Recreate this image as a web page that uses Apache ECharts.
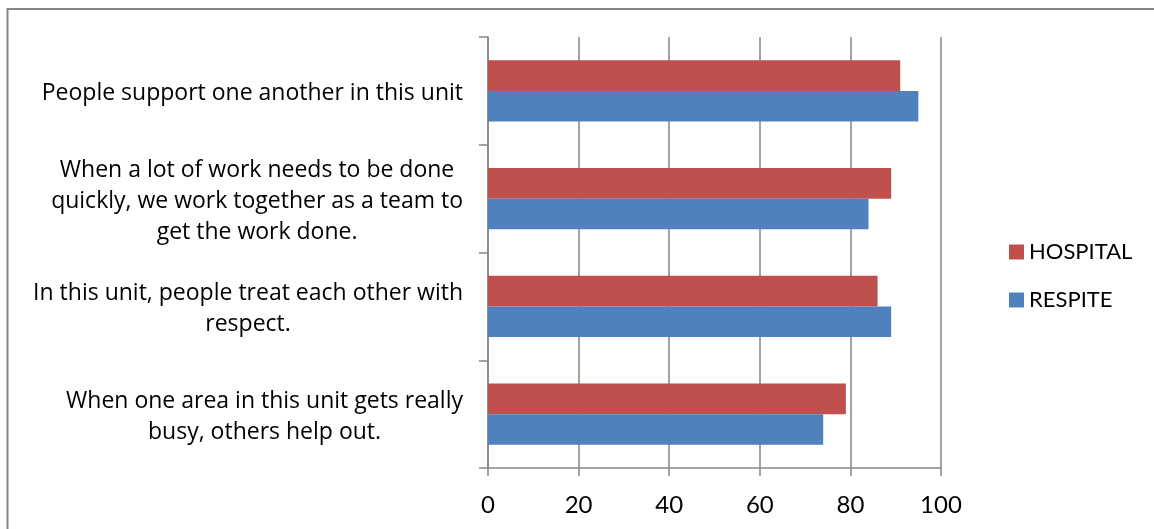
<!DOCTYPE html>
<html>
<head>
<meta charset="utf-8">
<script src="https://cdn.jsdelivr.net/npm/echarts@6/dist/echarts.min.js"></script>
<style>
html,body{margin:0;padding:0;background:#fff;}
#c{width:1154px;height:529px;}
</style>
</head>
<body>
<div id="c"></div>
<script>
// Categories listed bottom to top (value axis reads upward)
var categories = [
  "When one area in this unit gets really\nbusy, others help out.",
  "In this unit, people treat each other with\nrespect.",
  "When a lot of work needs to be done\nquickly, we work together as a team to\nget the work done.",
  "People support one another in this unit"
];
var respite = [74, 89, 84, 95];
var hospital = [79, 86, 89, 91];
var seriesNames = ["HOSPITAL", "RESPITE"];
var xTicks = { min: 0, max: 100, interval: 20 };

var chart = echarts.init(document.getElementById('c'), null, { renderer: 'canvas' });
var grey = '#868686';
var font = 'Lato';

chart.setOption({
  animation: false,
  backgroundColor: '#fff',
  graphic: [{
    type: 'rect',
    shape: { x: 7.5, y: 9, width: 1300, height: 700 },
    style: { fill: 'none', stroke: grey, lineWidth: 2 },
    silent: true
  }],
  grid: { left: 488, right: 213, top: 37, bottom: 61, containLabel: false },
  legend: {
    orient: 'vertical',
    left: 1004,
    top: 236,
    data: seriesNames,
    icon: 'rect',
    itemWidth: 15,
    itemHeight: 15,
    itemGap: 26,
    textStyle: { fontFamily: font, fontSize: 22, color: '#000', lineHeight: 22, padding: [0, 0, 0, 0] }
  },
  xAxis: {
    type: 'value',
    min: xTicks.min,
    max: xTicks.max,
    interval: xTicks.interval,
    axisLine: { show: true, lineStyle: { color: grey, width: 1.5 } },
    axisTick: { show: true, inside: false, length: 8, lineStyle: { color: grey, width: 1.5 } },
    splitLine: { show: true, lineStyle: { color: grey, width: 1.5 } },
    axisLabel: { fontFamily: font, fontSize: 24, color: '#000', margin: 25 }
  },
  yAxis: {
    type: 'category',
    data: categories,
    axisLine: { show: true, lineStyle: { color: grey, width: 1.5 } },
    axisTick: { show: true, length: 9, lineStyle: { color: grey, width: 1.5 } },
    splitLine: { show: false },
    axisLabel: {
      margin: 25,
      padding: [6, 0, 0, 0],
      formatter: function (v) {
        return v.split('\n').map(function (l) { return '{c|' + l + '}'; }).join('\n');
      },
      rich: {
        c: { fontFamily: 'Open Sans', fontSize: 23, color: '#000', align: 'center', lineHeight: 31 }
      }
    }
  },
  series: [
    {
      name: 'HOSPITAL', type: 'bar', data: hospital,
      barCategoryGap: '43%', barGap: '0%',
      itemStyle: { color: '#C0504D' }
    },
    {
      name: 'RESPITE', type: 'bar', data: respite,
      barCategoryGap: '43%', barGap: '0%',
      itemStyle: { color: '#4F81BD' }
    }
  ]
});
</script>
</body>
</html>
